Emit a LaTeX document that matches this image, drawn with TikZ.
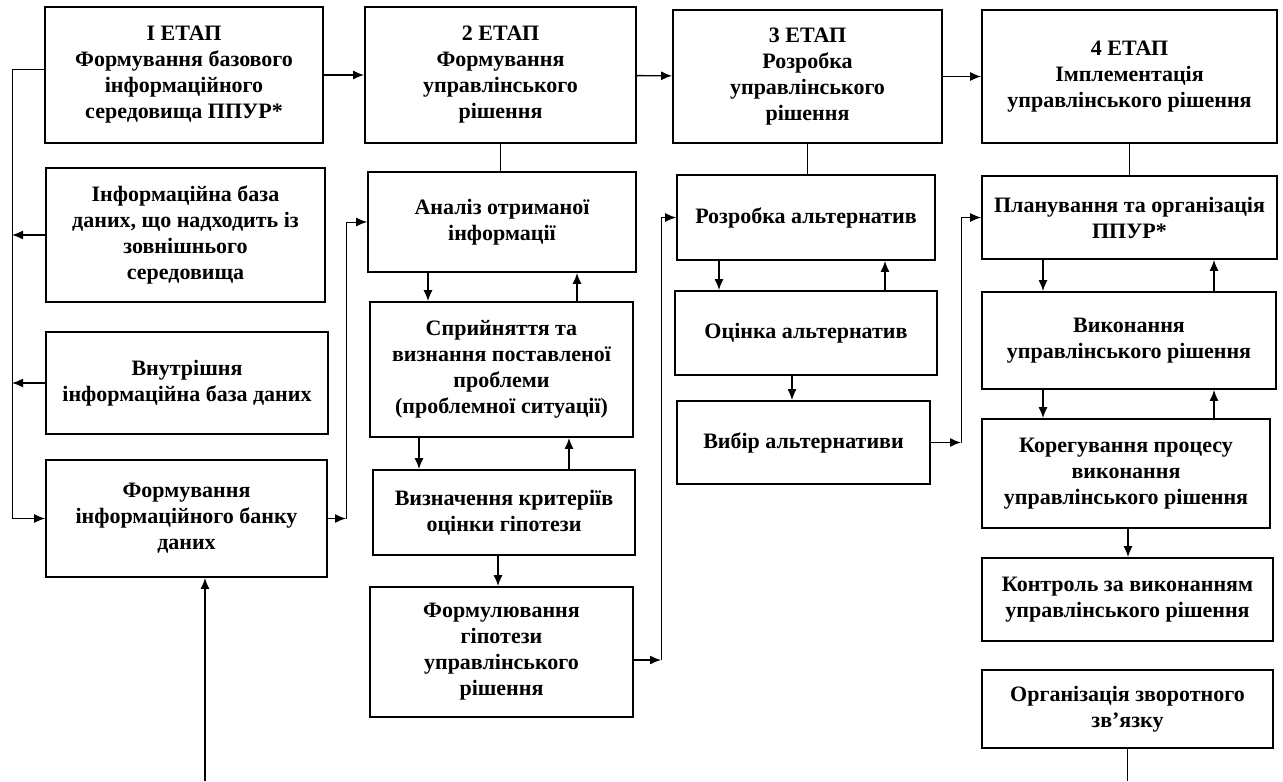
\documentclass[tikz,border=0pt]{standalone}
\usepackage{fontspec}
\setmainfont{Liberation Serif}
\usetikzlibrary{calc,arrows.meta}

\tikzset{
  blk/.style={draw, line width=0.9pt, align=center, inner sep=2pt,
    font=\bfseries\fontsize{11}{13}\selectfont},
  link/.style={line width=0.7pt},
  bus/.style={line width=0.5pt}
}

\begin{document}
\begin{tikzpicture}[>={Latex[length=5.5pt,width=4.5pt]}, x=0.5pt, y=-0.5pt]
        \useasboundingbox (0,0) rectangle (1283,781);

        % Stages
        \node[blk, minimum width=139pt, minimum height=68pt] (st1) at (184,75)
            {І ЕТАП\\Формування базового\\інформаційного\\середовища ППУР*};
        \node[blk, minimum width=135.5pt, minimum height=68pt] (st2) at (500.5,75)
            {2 ЕТАП\\Формування\\управлінського\\рішення};
        \node[blk, minimum width=134.5pt, minimum height=66.5pt] (st3) at (807.5,76.5)
            {3 ЕТАП\\Розробка\\управлінського\\рішення};
        \node[blk, minimum width=147.5pt, minimum height=66.5pt] (st4) at (1129.5,76.5)
            {4 ЕТАП\\Імплементація\\управлінського рішення};

        % Stage 1
        \node[blk, minimum width=139.5pt, minimum height=67pt] (ext) at (185.5,235)
            {Інформаційна база\\даних, що надходить із\\зовнішнього\\середовища};
        \node[blk, minimum width=141pt, minimum height=51pt] (int) at (187,383)
            {Внутрішня\\інформаційна база даних};
        \node[blk, minimum width=140.5pt, minimum height=58.5pt] (bank) at (186.5,518.5)
            {Формування\\інформаційного банку\\даних};

        % Stage 2
        \node[blk, minimum width=134pt, minimum height=50pt] (anal) at (502,222)
            {Аналіз отриманої\\інформації};
        \node[blk, minimum width=131.5pt, minimum height=67.5pt] (perc) at (501.5,369.5)
            {Сприйняття та\\визнання поставленої\\проблеми\\(проблемної ситуації)};
        \node[blk, minimum width=131pt, minimum height=42.5pt] (crit) at (504,512.5)
            {Визначення критеріїв\\оцінки гіпотези};
        \node[blk, minimum width=131.5pt, minimum height=65pt] (hyp) at (501.5,652)
            {Формулювання\\гіпотези\\управлінського\\рішення};

        % Stage 3
        \node[blk, minimum width=129pt, minimum height=42.5pt] (dev) at (806,217.5)
            {Розробка альтернатив};
        \node[blk, minimum width=131pt, minimum height=42pt] (eval) at (806,333)
            {Оцінка альтернатив};
        \node[blk, minimum width=126.5pt, minimum height=41.5pt] (choice) at (803.5,442.5)
            {Вибір альтернативи};

        % Stage 4
        \node[blk, minimum width=147.5pt, minimum height=41.5pt] (plan) at (1129.5,217.5)
            {Планування та організація\\ППУР*};
        \node[blk, minimum width=147pt, minimum height=48.5pt] (exec) at (1129,340.5)
            {Виконання\\управлінського рішення};
        \node[blk, minimum width=144pt, minimum height=54.5pt] (corr) at (1126,473.5)
            {Корегування процесу\\виконання\\управлінського рішення};
        \node[blk, minimum width=145.5pt, minimum height=41.5pt] (ctrl) at (1127.5,599.5)
            {Контроль за виконанням\\управлінського рішення};
        \node[blk, minimum width=145.5pt, minimum height=39pt] (fb) at (1127.5,709)
            {Організація зворотного\\зв’язку};

        % Bus lines
        \coordinate (busA) at (12,0);
        \coordinate (busB) at (346,0);
        \coordinate (busC) at (661,0);
        \coordinate (busD) at (961,0);
        \coordinate (inp) at (205,781);
        \coordinate (outp) at (1129,781);

        % Arrows between stages
        \draw[->, link] (st1) -- (st2);
        \draw[->, link] (st2) -- (st3);
        \draw[->, link] (st3) -- (st4);
        \draw[bus] (st2.south) -- (st2.south |- anal.north);
        \draw[bus] (st3.south) -- (st3.south |- dev.north);
        \draw[bus] (st4.south) -- (st4.south |- plan.north);

        % Stage 1 links
        \draw[->, bus] ([yshift=2.5pt]st1.west) -- ([yshift=2.5pt]st1.west -| busA) -- (busA |- bank.west) -- (bank.west);
        \draw[->, link] (ext.west) -- (ext.west -| busA);
        \draw[->, link] (int.west) -- (int.west -| busA);
        \draw[->, link] (inp) -- (inp |- bank.south);
        \draw[->, link] (bank.east) -- (bank.east -| busB);
        \draw[->, bus] (bank.east -| busB) -- (busB |- anal.west) -- (anal.west);

        % Two-way links
        \foreach \a/\b/\d/\u in {anal/perc/-74/75, perc/crit/-82.5/67.5,
                                 dev/eval/-87/79, plan/exec/-86.5/84.5, exec/corr/-86/85} {
          \draw[->, link] ($(\a.south)+(\d,0)$) -- ($(\a.south |- \b.north)+(\d,0)$);
          \draw[->, link] ($(\a.south |- \b.north)+(\u,0)$) -- ($(\a.south)+(\u,0)$);
        }
        \foreach \a/\b/\d in {crit/hyp/-6, eval/choice/-14, corr/ctrl/2}
          \draw[->, link] ($(\a.south)+(\d,0)$) -- ($(\a.south |- \b.north)+(\d,0)$);

        % Links to the next stage
        \draw[->, link] ([yshift=-4pt]hyp.east) -- ([yshift=-4pt]hyp.east -| busC);
        \draw[->, bus] ([yshift=-4pt]hyp.east -| busC) -- (busC |- dev.west) -- (dev.west);
        \draw[->, link] (choice.east) -- (choice.east -| busD);
        \draw[->, bus] (choice.east -| busD) -- (busD |- plan.west) -- (plan.west);
        \draw[bus] (fb.south) -- (fb.south |- outp);
    \end{tikzpicture}
\end{document}
